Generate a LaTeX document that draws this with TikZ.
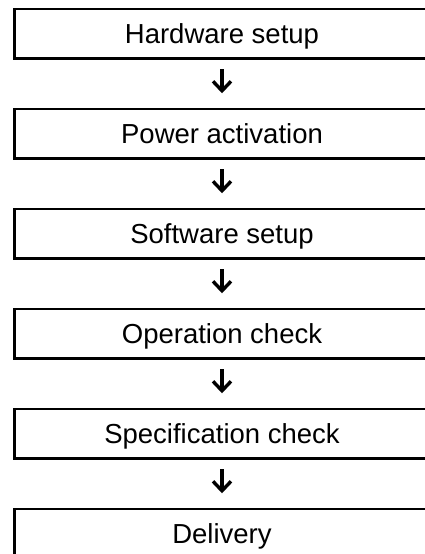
\documentclass[tikz,border=0pt]{standalone}
\usepackage{fontspec}
\setmainfont{Liberation Sans}
\usetikzlibrary{arrows.meta}
\begin{document}
\begin{tikzpicture}[x=1pt,y=-1pt,
  stepbox/.style={draw=black, line width=2.8pt, rectangle, inner sep=0pt,
    minimum width=414.6pt, minimum height=49.5pt,
    font=\fontsize{27.5}{32}\selectfont, text height=19.7pt, text depth=0pt},
  flow/.style={line width=3.4pt, -{Straight Barb[length=9.5pt,width=18pt,line width=3.4pt]},
    shorten <=9.5pt, shorten >=14.4pt}]
\useasboundingbox (0,0) rectangle (424,554);
\node[stepbox] (s1) at (222,33.8) {Hardware setup};
\node[stepbox] (s2) at (222,133.8) {Power activation};
\node[stepbox] (s3) at (222,233.8) {Software setup};
\node[stepbox] (s4) at (222,333.8) {Operation check};
\node[stepbox] (s5) at (222,433.8) {Specification check};
\node[stepbox] (s6) at (222,533.8) {Delivery};
\draw[flow] (s1) -- (s2);
\draw[flow] (s2) -- (s3);
\draw[flow] (s3) -- (s4);
\draw[flow] (s4) -- (s5);
\draw[flow] (s5) -- (s6);
\end{tikzpicture}
\end{document}
